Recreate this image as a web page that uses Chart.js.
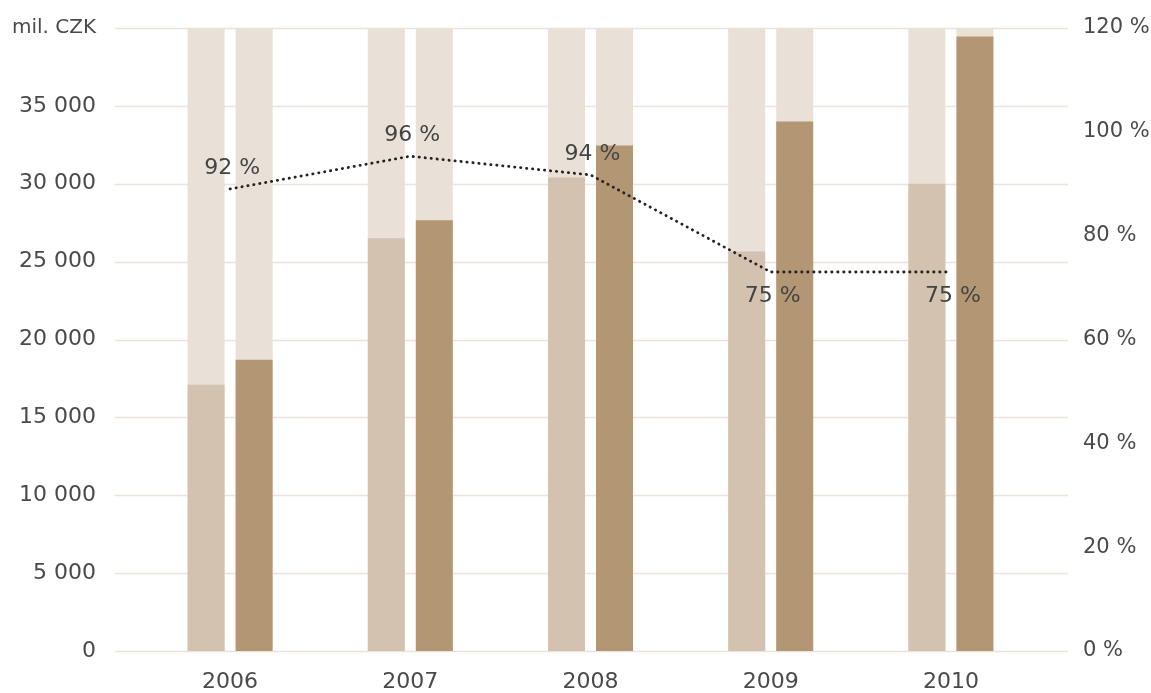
<!DOCTYPE html>
<html>
<head>
<meta charset="utf-8">
<script src="https://cdn.jsdelivr.net/npm/chart.js@4"></script>
<style>
  html, body { margin: 0; padding: 0; background: #fff; }
  #wrap { width: 1151px; height: 693px; }
</style>
</head>
<body>
<div id="wrap"><canvas id="graf"></canvas></div>
<script>
// data
const roky = ['2006', '2007', '2008', '2009', '2010'];
const rada1 = [17100, 26500, 30400, 25650, 30000];
const rada2 = [18700, 27650, 32450, 34000, 39450];
const pozadi = [40000, 40000, 40000, 40000, 40000];
const podil = [89, 95.3, 91.7, 73, 73];
const podilTexty = ['92 %', '96 %', '94 %', '75 %', '75 %'];

const strana = ['top', 'top', 'top', 'bottom', 'bottom'];

Chart.defaults.font.family = "'DejaVu Sans', sans-serif";
Chart.defaults.font.size = 22;
Chart.defaults.color = '#4a4a4a';

function mezery(v) {
  return String(v).replace(/\B(?=(\d{3})+(?!\d))/g, ' ');
}

// vodorovne linky mrizky (sirsi nez oblast grafu)
const mrizka = {
  id: 'mrizka',
  beforeDatasetsDraw(chart) {
    const { ctx, chartArea, scales } = chart;
    ctx.save();
    ctx.strokeStyle = '#ece4dc';
    ctx.lineWidth = 1.5;
    scales.y.ticks.forEach((t) => {
      const y = Math.round(scales.y.getPixelForValue(t.value)) + 0.5;
      ctx.beginPath();
      ctx.moveTo(chartArea.left - 25, y);
      ctx.lineTo(chartArea.right + 27, y);
      ctx.stroke();
    });
    ctx.restore();
  },
};

const popisky = {
  id: 'popisky',
  afterDatasetsDraw(chart) {
    const { ctx } = chart;
    const meta = chart.getDatasetMeta(4);
    ctx.save();
    ctx.font = "22px 'DejaVu Sans', sans-serif";
    ctx.fillStyle = '#444';
    ctx.textAlign = 'center';
    ctx.textBaseline = 'middle';
    meta.data.forEach((p, i) => {
      const dy = strana[i] === 'top' ? -21 : 24;
      ctx.fillText(podilTexty[i], p.x + 2, p.y + dy);
    });
    ctx.restore();
  },
};

new Chart(document.getElementById('graf'), {
  data: {
    labels: roky,
    datasets: [
      { type: 'bar', data: rada1, stack: 'a', backgroundColor: '#d4c2b0', order: 1 },
      { type: 'bar', data: rada2, stack: 'b', backgroundColor: '#b39674', order: 1 },
      { type: 'bar', data: pozadi, stack: 'a', backgroundColor: '#e9e0d7', order: 2 },
      { type: 'bar', data: pozadi, stack: 'b', backgroundColor: '#e9e0d7', order: 2 },
      {
        type: 'line', data: podil, yAxisID: 'y1', order: 0,
        borderColor: '#222', borderWidth: 2.8, borderDash: [0.3, 5.7], borderCapStyle: 'round',
        pointRadius: 0, fill: false, tension: 0,
      },
    ],
  },
  options: {
    responsive: true,
    maintainAspectRatio: false,
    animation: false,
    events: [],
    layout: { padding: { top: 28, left: 0, right: 0, bottom: 0 } },
    datasets: { bar: { categoryPercentage: 0.533, barPercentage: 0.77 } },
    plugins: { legend: { display: false }, tooltip: { enabled: false } },
    scales: {
      x: {
        grid: { display: false, drawTicks: true, tickLength: 14 },
        border: { display: false },
        ticks: { padding: 4 },
        afterFit: (s) => { s.height = 42; },
      },
      y: {
        stacked: false,
        min: 0, max: 40000,
        grid: { display: false, drawTicks: true, tickLength: 40 },
        border: { display: false },
        ticks: {
          stepSize: 5000, padding: 4,
          font: (c) => ({ size: c.tick && c.tick.value === 40000 ? 20 : 22 }),
          callback: (v) => (v === 40000 ? 'mil. CZK' : mezery(v)),
        },
        afterFit: (s) => { s.width = 140; },
      },
      y1: {
        position: 'right',
        min: 0, max: 120,
        grid: { display: false, drawTicks: true, tickLength: 38 },
        border: { display: false },
        ticks: { stepSize: 20, padding: 4, font: { size: 21 }, callback: (v) => v + ' %' },
        afterFit: (s) => { s.width = 110; },
      },
    },
  },
  plugins: [mrizka, popisky],
});
</script>
</body>
</html>
